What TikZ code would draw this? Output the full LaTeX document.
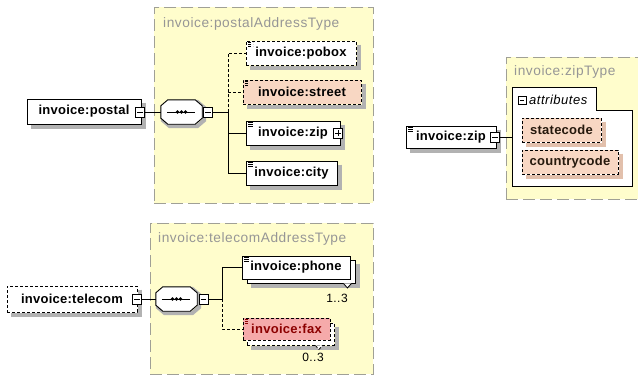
\documentclass[tikz,border=0pt]{standalone}
\usepackage{fontspec}
\setmainfont{Liberation Sans}
\newfontfamily\elfont[LetterSpace=2]{Liberation Sans}
\newfontfamily\tifont[LetterSpace=4]{Liberation Sans}
\definecolor{yellowbg}{RGB}{255,253,204}
\definecolor{typeborder}{RGB}{160,160,150}
\definecolor{titlegray}{RGB}{150,150,150}
\definecolor{shadgray}{RGB}{178,178,178}
\definecolor{attrshad}{RGB}{226,192,172}
\definecolor{salmon}{RGB}{248,215,195}
\definecolor{faxfill}{RGB}{245,170,170}
\definecolor{faxtext}{RGB}{140,0,0}
\newcommand\octpath[3]{([shift={(#2+7pt,#3)}]#1.north west) -- ([shift={(#2-7pt,#3)}]#1.north east) -- ([shift={(#2,#3-6pt)}]#1.north east) -- ([shift={(#2,#3+6pt)}]#1.south east) -- ([shift={(#2-7pt,#3)}]#1.south east) -- ([shift={(#2+7pt,#3)}]#1.south west) -- ([shift={(#2,#3+6pt)}]#1.south west) -- ([shift={(#2,#3-6pt)}]#1.north west) -- cycle}
\newcommand\seqoct[1]{%
  \draw[shadline] \octpath{#1}{2pt}{-2pt};
  \draw[line width=0.9pt, fill=white] \octpath{#1}{0pt}{0pt};
  \draw[line width=0.9pt] ([xshift=6pt]#1.west) -- ([xshift=-7pt]#1.east);
  \foreach \dx in {-4,0,4} \fill ([xshift=\dx pt]#1.center) circle (1.9pt);}
\newcommand\eshadow[2]{\draw[shadline, draw=#2] ([shift={(2.5pt,-4pt)}]#1.north east) -- ([shift={(2.5pt,-2.5pt)}]#1.south east) -- ([shift={(4pt,-2.5pt)}]#1.south west);}
\begin{document}
\begin{tikzpicture}[x=1pt,y=-1pt,
  typebox/.style={draw=typeborder, fill=yellowbg, line width=0.9pt, dash pattern=on 12pt off 5pt, inner sep=0pt, anchor=north west},
  typetitle/.style={anchor=west, inner sep=0pt, text=titlegray, font=\tifont\fontsize{13.7}{15}\selectfont},
  elicon/.style={path picture={\foreach \d in {1.5,3.3,5.1} \draw[line width=0.7pt,#1] ([shift={(2pt,-\d pt)}]path picture bounding box.north west) -- ++(5pt,0);}},
  elicon/.default=black,
  elembase/.style={draw, line width=0.9pt, fill=white, inner sep=0pt, font=\elfont\bfseries\fontsize{13}{15}\selectfont},
  elem/.style={elembase, elicon},
  attrib/.style={elembase, fill=salmon, opt, text=black!80!brown},
  shadline/.style={draw=shadgray, line width=4pt, line join=miter, line cap=butt},
  copybox/.style={draw, fill=white, line width=0.9pt, inner sep=0pt},
  opt/.style={dash pattern=on 3pt off 2pt},
  conn/.style={line width=0.9pt},
  tog/.style={draw, line width=0.8pt, fill=white, minimum width=9pt, minimum height=10pt, inner sep=0pt,
    path picture={\draw[line width=0.8pt] ([xshift=1.8pt]path picture bounding box.west) -- ([xshift=-1.8pt]path picture bounding box.east);}},
  togplus/.style={draw, line width=0.8pt, fill=white, minimum width=9pt, minimum height=10pt, inner sep=0pt,
    path picture={\draw[line width=0.8pt] ([xshift=1.8pt]path picture bounding box.west) -- ([xshift=-1.8pt]path picture bounding box.east)
      ([yshift=-2pt]path picture bounding box.north) -- ([yshift=2pt]path picture bounding box.south);}},
  seqnode/.style={minimum width=41pt, minimum height=24pt, inner sep=0pt},
  mult/.style={inner sep=0pt, font=\tifont\fontsize{12}{13}\selectfont}
]
\useasboundingbox (0,0) rectangle (638,376);
\fill[white] (0,0) rectangle (638,376);

% ---------- type containers ----------
\node[typebox, minimum width=219pt, minimum height=196pt] (ptype) at (154,7) {};
\node[typebox, minimum width=223pt, minimum height=151pt] (ttype) at (150,223) {};
\node[typebox, minimum width=144pt, minimum height=142pt] (ztype) at (506,57) {};
\node[typetitle] (ptitle) at (163,24) {invoice:postalAddressType};
\node[typetitle] (ttitle) at (158,239) {invoice:telecomAddressType};
\node[typetitle] (ztitle) at (514,72) {invoice:zipType};
\node[minimum width=119pt, minimum height=98pt, inner sep=0pt] (attr) at (572.5,137) {};
\draw[line width=0.9pt, fill=white] (attr.north west) -- ([xshift=84pt]attr.north west) -- ([shift={(84pt,-23pt)}]attr.north west) -- ([yshift=-23pt]attr.north east) -- (attr.south east) -- (attr.south west) -- cycle;

% ---------- postal ----------
\node[elembase, minimum width=114pt, minimum height=25pt] (postal) at (84,111.5) {invoice:postal\hspace{8pt}};
\eshadow{postal}{shadgray}
\node[tog] (postalT) at (140,112) {};
\node[seqnode] (pseq) at (181.5,112) {};
\seqoct{pseq}
\node[tog] (pseqT) at (208,112) {};
\coordinate (pj) at (228,112);

\node[elem, opt, minimum width=110pt, minimum height=24pt] (pobox) at (301,53) {invoice:pobox};
\eshadow{pobox}{shadgray}
\node[elem, opt, fill=salmon, minimum width=118pt, minimum height=24pt] (street) at (302,92) {invoice:street};
\eshadow{street}{shadgray}
\node[elem, minimum width=94pt, minimum height=24pt] (zip) at (293,133) {invoice:zip\hspace{9pt}};
\eshadow{zip}{shadgray}
\node[togplus] (zipT) at (338,133) {};
\node[elem, minimum width=91pt, minimum height=24pt] (city) at (291.5,173) {invoice:city};
\eshadow{city}{shadgray}

\draw[conn] (postalT.east) -- (pseq.west);
\draw[conn] (pseqT.east) -- (pj);
\draw[conn,opt] (pj) |- (pobox.west);
\draw[conn,opt] (pj) |- (street.west);
\draw[conn] (pj) |- (zip.west);
\draw[conn] (pj) |- (city.west);

% ---------- telecom ----------
\node[elembase, opt, minimum width=130pt, minimum height=26pt] (telecom) at (72,299) {invoice:telecom\hspace{8pt}};
\eshadow{telecom}{shadgray}
\node[tog] (telecomT) at (137,299) {};
\node[seqnode] (tseq) at (176.5,299) {};
\seqoct{tseq}
\node[tog] (tseqT) at (203.5,299) {};
\coordinate (tj) at (222,299);

\node[copybox, minimum width=108pt, minimum height=23pt] (phoneB) at (301,271.5) {};
\eshadow{phoneB}{shadgray}
\draw[line width=0.8pt, fill=white] ([xshift=-12pt]phoneB.south east) -- ([shift={(-8pt,-4.5pt)}]phoneB.south east) -- ([xshift=-4pt]phoneB.south east);
\node[elem, minimum width=108pt, minimum height=23pt] (phone) at (296,267.5) {invoice:phone};
\node[mult] (phonem) at (337,298) {1..3};

\node[copybox, opt, minimum width=87pt, minimum height=22pt] (faxB) at (290.5,334) {};
\eshadow{faxB}{shadgray}
\draw[line width=0.8pt, opt, fill=white] ([xshift=-19pt]faxB.south east) -- ([shift={(-15.5pt,-4pt)}]faxB.south east) -- ([xshift=-12pt]faxB.south east);
\node[elembase, opt, fill=faxfill, text=faxtext, elicon=faxtext, minimum width=87pt, minimum height=22pt] (fax) at (286.5,329) {invoice:fax};
\node[mult] (faxm) at (313,357) {0..3};

\draw[conn] (telecomT.east) -- (tseq.west);
\draw[conn] (tseqT.east) -- (tj);
\draw[conn] (tj) |- (phone.west);
\draw[conn,opt] (tj) |- (fax.west);

% ---------- zipType ----------
\node[elem, minimum width=90pt, minimum height=22pt] (zipR) at (451,137) {invoice:zip\hspace{8pt}};
\eshadow{zipR}{shadgray}
\node[tog] (zipRT) at (495,137) {};
\node[tog, minimum width=8pt, minimum height=8pt] (attrT) at (522,100) {};
\node[anchor=west, inner sep=0pt, font=\tifont\itshape\fontsize{13}{15}\selectfont] (attrlabel) at (529,100) {attributes};
\node[attrib, minimum width=79pt, minimum height=24pt] (state) at (561.5,130) {statecode};
\eshadow{state}{attrshad}
\node[attrib, minimum width=96pt, minimum height=24pt] (country) at (570,162) {countrycode};
\eshadow{country}{attrshad}
\draw[conn] (zipRT.east) -- (attr.west);
\end{tikzpicture}
\end{document}
